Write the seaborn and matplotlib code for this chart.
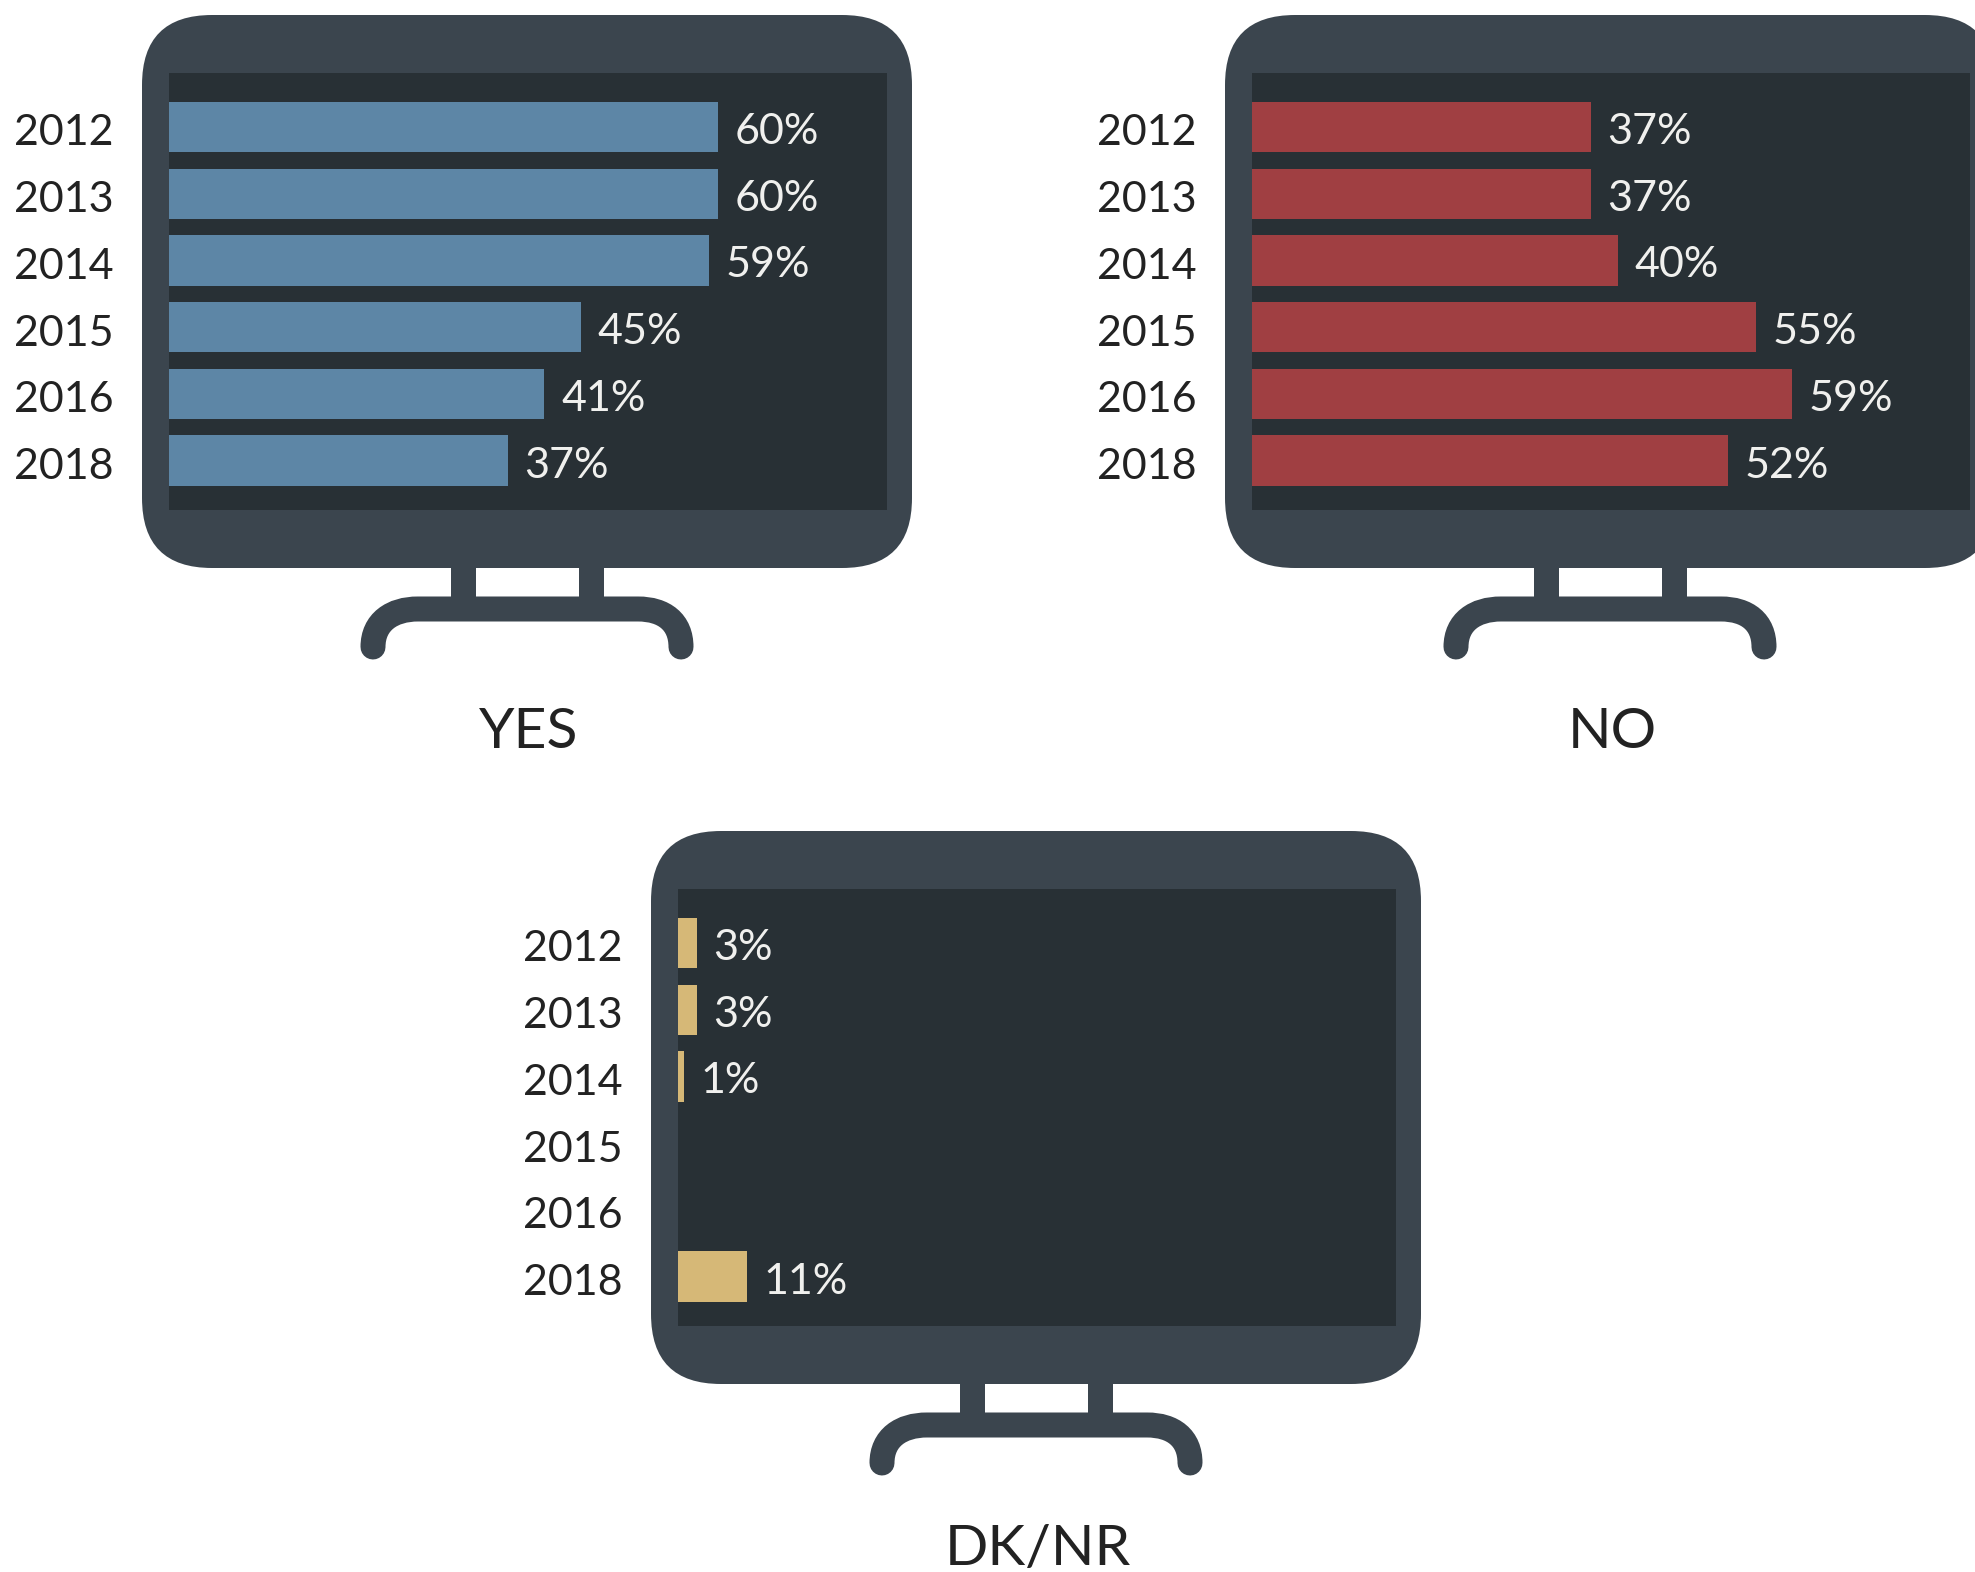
import numpy as np
import pandas as pd
import matplotlib
matplotlib.use("Agg")
import matplotlib.pyplot as plt
from matplotlib.patches import FancyBboxPatch, PathPatch, Rectangle
from matplotlib.path import Path
from matplotlib.transforms import ScaledTranslation
import seaborn as sns

YEARS = ["2012", "2013", "2014", "2015", "2016", "2018"]
YES_VALUES = [60, 60, 59, 45, 41, 37]
NO_VALUES = [37, 37, 40, 55, 59, 52]
DKNR_VALUES = [3, 3, 1, np.nan, np.nan, 11]
TITLES = ["YES", "NO", "DK/NR"]

FRAME = "#3b454e"
SCREEN = "#283035"
BLUE = "#5d86a6"
RED = "#a03f42"
TAN = "#d6b877"
INK = "#222222"
LABEL = "#f0f0ee"

W, H = 1975, 1572
sns.set_theme(style="white")
plt.rcParams["font.family"] = ["Lato", "DejaVu Sans"]

fig = plt.figure(figsize=(W / 100, H / 100), dpi=100, facecolor="white")
canvas = fig.add_axes([0, 0, 1, 1], zorder=0)
canvas.set_xlim(0, W)
canvas.set_ylim(H, 0)
canvas.axis("off")


def draw_monitor(dx, dy):
    """Monitor housing and stand, in pixel units relative to the panel offset."""
    r = 70
    canvas.add_patch(FancyBboxPatch((142 + r + dx, 15 + r + dy), 770 - 2 * r, 553 - 2 * r,
                                    boxstyle=f"round,pad={r},rounding_size={r}",
                                    fc=FRAME, ec="none"))
    for post in (451, 579):
        canvas.add_patch(Rectangle((post + dx, 565 + dy), 25, 45, fc=FRAME, ec="none"))
    foot = Path(
        [(373 + dx, 647 + dy), (373 + dx, 622 + dy), (392 + dx, 609 + dy), (418 + dx, 609 + dy),
         (638 + dx, 609 + dy), (664 + dx, 609 + dy), (681 + dx, 622 + dy), (681 + dx, 647 + dy)],
        [Path.MOVETO, Path.CURVE4, Path.CURVE4, Path.CURVE4,
         Path.LINETO, Path.CURVE4, Path.CURVE4, Path.CURVE4],
    )
    canvas.add_patch(PathPatch(foot, fc="none", ec=FRAME, lw=18, capstyle="round"))


def draw_panel(values, color, title, dx, dy, px_per_point):
    draw_monitor(dx, dy)
    left, top, width, height = 169 + dx, 73 + dy, 718, 437
    ax = fig.add_axes([left / W, 1 - (top + height) / H, width / W, height / H],
                      facecolor=SCREEN, zorder=1)
    frame = pd.DataFrame({"year": YEARS, "share": values})
    sns.barplot(data=frame, y="year", x="share", order=YEARS, color=color,
                saturation=1, width=0.755, orient="h", ax=ax, errorbar=None,
                linewidth=0, edgecolor="none")
    ax.set_xlim(0, width / px_per_point)
    ax.set_ylim(5.74, -0.813)
    ax.set_xlabel("")
    ax.set_ylabel("")
    ax.set_xticks([])
    ax.tick_params(axis="y", length=0, pad=40, labelsize=31, labelcolor=INK)
    nudge = ScaledTranslation(0, -2 / 72, fig.dpi_scale_trans)
    for tick_label in ax.get_yticklabels():
        tick_label.set_transform(tick_label.get_transform() + nudge)
    sns.despine(ax=ax, left=True, bottom=True, right=True, top=True)
    for row, value in enumerate(values):
        if not np.isnan(value):
            ax.annotate(f"{value:.0f}%", (value, row), xytext=(12, -1),
                        textcoords="offset points", va="center_baseline", ha="left",
                        color=LABEL, fontsize=31)
    canvas.text(529 + dx, 733 + dy, title, ha="center", va="center",
                color=INK, fontsize=41)


draw_panel(YES_VALUES, BLUE, TITLES[0], 0, 0, 9.157)
draw_panel(NO_VALUES, RED, TITLES[1], 1083, 0, 9.157)
draw_panel(DKNR_VALUES, TAN, TITLES[2], 509, 816, 6.235)

fig.savefig("out.png", dpi=100, facecolor="white")
